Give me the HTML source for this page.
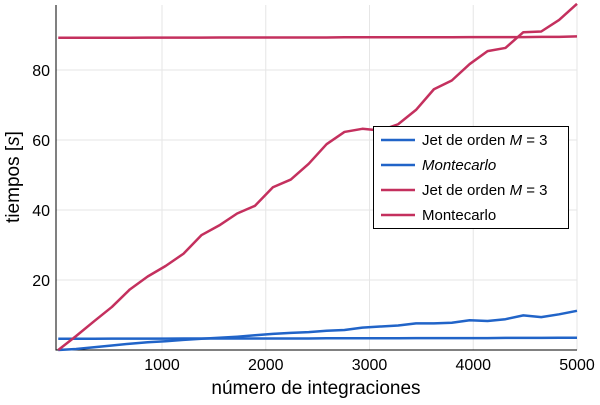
<!DOCTYPE html>
<html><head><meta charset="utf-8"><style>
body{margin:0;background:#fff}
svg{font-family:"Liberation Sans",sans-serif}
</style></head><body>
<svg id="c" width="600" height="400"></svg>
<script>
const xTicks=[1000,2000,3000,4000,5000];
const yTicks=[20,40,60,80];
const mcRed=[0,4,8.2,12.3,17.3,21,24,27.5,32.8,35.6,39,41.2,46.5,48.7,53.2,58.8,62.3,63.2,62.7,64.5,68.6,74.5,77,81.7,85.4,86.3,90.8,91,94.3,98.9];
const jetRed=[89.2,89.2,89.2,89.2,89.2,89.25,89.25,89.25,89.25,89.3,89.3,89.3,89.3,89.3,89.3,89.3,89.35,89.35,89.35,89.35,89.35,89.35,89.35,89.4,89.4,89.4,89.4,89.45,89.45,89.6];
const mcBlue=[0,0.3,0.8,1.3,1.8,2.2,2.5,2.9,3.2,3.5,3.8,4.2,4.6,4.9,5.1,5.5,5.7,6.4,6.7,7.0,7.6,7.6,7.8,8.5,8.3,8.8,9.9,9.4,10.2,11.2];
const jetBlue=[3.2,3.2,3.2,3.25,3.25,3.25,3.25,3.3,3.3,3.3,3.3,3.3,3.3,3.3,3.3,3.35,3.35,3.35,3.35,3.35,3.4,3.4,3.4,3.4,3.4,3.45,3.45,3.45,3.5,3.5];
const xs=mcRed.map((_,i)=>i*5000/(mcRed.length-1));
const X=v=>58.25+v*0.10375, Y=v=>350-v*3.5;
const s=document.getElementById('c');
const NS='http://www.w3.org/2000/svg';
function el(t,a,p){const e=document.createElementNS(NS,t);for(const k in a)e.setAttribute(k,a[k]);(p||s).appendChild(e);return e;}
yTicks.forEach(v=>{
  const g=el('line',{x1:56,x2:577,y1:Y(v),y2:Y(v),stroke:'#e6e6e6','stroke-width':1});
  
  
  const t=el('text',{x:50,y:Y(v)+6,'text-anchor':'end','font-size':16,fill:'#000'});
  t.textContent=v;
  
  
});
xTicks.forEach(v=>{
  const g=el('line',{x1:X(v),x2:X(v),y1:5,y2:350,stroke:'#e6e6e6','stroke-width':1});
  
  
  const t=el('text',{x:X(v),y:370,'text-anchor':'middle','font-size':16,fill:'#000'});
  t.textContent=v;
  
  
});
const ax=el('path',{d:'M56,5 V350 H577',fill:'none',stroke:'#000','stroke-width':1});


function series(d,c,n){
  const p=el('polyline',{points:d.map((v,i)=>X(xs[i])+','+Y(v)).join(' '),fill:'none',stroke:c,'stroke-width':2.5,'stroke-linejoin':'round'});
  
  
}
series(jetBlue,'#2164c8','line-jet-blue');
series(mcBlue,'#2164c8','line-montecarlo-blue');
series(jetRed,'#c4305e','line-jet-red');
series(mcRed,'#c4305e','line-montecarlo-red');
</script>
<svg style="position:absolute;left:0;top:0" width="600" height="400">
<g>
<rect x="373.5" y="126.5" width="195" height="102" fill="#fff" stroke="#000" stroke-width="1"/>
<line x1="381" x2="415" y1="140" y2="140" stroke="#2164c8" stroke-width="2.5"/>
<text x="422" y="145" font-size="15">Jet de orden <tspan font-style="italic">M</tspan> = 3</text>
<line x1="381" x2="415" y1="165" y2="165" stroke="#2164c8" stroke-width="2.5"/>
<text x="422" y="170" font-size="15" font-style="italic">Montecarlo</text>
<line x1="381" x2="415" y1="190" y2="190" stroke="#c4305e" stroke-width="2.5"/>
<text x="422" y="195" font-size="15">Jet de orden <tspan font-style="italic">M</tspan> = 3</text>
<line x1="381" x2="415" y1="215" y2="215" stroke="#c4305e" stroke-width="2.5"/>
<text x="422" y="220" font-size="15">Montecarlo</text>
</g>
<text x="316" y="394" text-anchor="middle" font-size="19">número de integraciones</text>
<text transform="translate(19,177) rotate(-90)" text-anchor="middle" font-size="19">tiempos [<tspan font-style="italic">s</tspan>]</text>
</svg>
</body></html>
